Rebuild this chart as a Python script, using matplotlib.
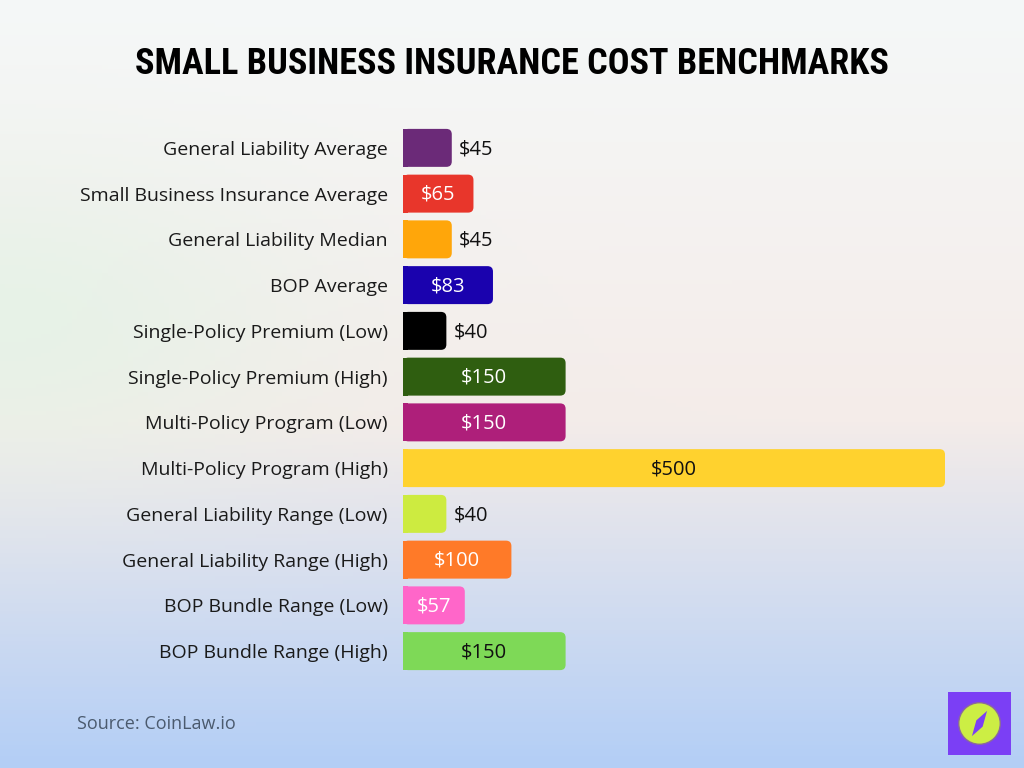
import numpy as np
import matplotlib.pyplot as plt
from matplotlib.patches import FancyBboxPatch, Rectangle, Circle, Polygon
from matplotlib.font_manager import fontManager
import matplotlib.colors as mcolors

# data
categories = [
    "General Liability Average",
    "Small Business Insurance Average",
    "General Liability Median",
    "BOP Average",
    "Single-Policy Premium (Low)",
    "Single-Policy Premium (High)",
    "Multi-Policy Program (Low)",
    "Multi-Policy Program (High)",
    "General Liability Range (Low)",
    "General Liability Range (High)",
    "BOP Bundle Range (Low)",
    "BOP Bundle Range (High)",
]
values = [45, 65, 45, 83, 40, 150, 150, 500, 40, 100, 57, 150]
colors = ["#6b2a78", "#e8362b", "#ffa60a", "#1a02ae", "#000000", "#2f5e10",
          "#ae1f7a", "#ffd22e", "#cdeb40", "#ff7a28", "#ff66c9", "#7ed957"]
title = "SMALL BUSINESS INSURANCE COST BENCHMARKS"

# pick a narrow bold face for the title if one is installed
names = {f.name for f in fontManager.ttflist}
narrow = [n for n in ["Roboto Condensed", "DejaVu Sans Condensed",
                      "Liberation Sans Narrow", "Open Sans Condensed"] if n in names]

fig = plt.figure(figsize=(10.24, 7.68), dpi=100)

# background gradient
bg = fig.add_axes([0, 0, 1, 1], zorder=-10)
bg.axis("off")
h, w = 200, 200
yy = np.linspace(0, 1, h)[:, None]
xx = np.linspace(0, 1, w)[None, :]
top = np.array(mcolors.to_rgb("#f5f8f8"))
mid = np.array(mcolors.to_rgb("#f4ece9"))
bot = np.array(mcolors.to_rgb("#b3cef6"))
t = np.clip(yy / 0.55, 0, 1)
u = np.clip((yy - 0.55) / 0.45, 0, 1)
img = np.where(yy[..., None] < 0.55,
               top * (1 - t[..., None]) + mid * t[..., None],
               mid * (1 - u[..., None]) + bot * u[..., None])
img = np.broadcast_to(img, (h, w, 3)).copy()
# slight mint tint on left middle
green = np.array(mcolors.to_rgb("#e4f3e6"))
wgt = np.exp(-((xx - 0.0) ** 2) / 0.08 - ((yy - 0.42) ** 2) / 0.04)[..., None] * 0.8
img = img * (1 - wgt) + green * wgt
bg.imshow(img, aspect="auto", extent=[0, 1, 0, 1])
bg.set_xlim(0, 1)
bg.set_ylim(0, 1)

ax = fig.add_axes([403 / 1024, 94 / 768, 542 / 1024, 549 / 768])
ax.set_xlim(0, 500)
ax.set_ylim(len(values) - 0.5, -0.5)
ax.patch.set_alpha(0)
for s in ax.spines.values():
    s.set_visible(False)
ax.set_xticks([])
ax.set_yticks(range(len(categories)))
ax.set_yticklabels(categories, fontsize=14, color="#1a1a1a", family="Open Sans")
ax.tick_params(axis="y", length=0, pad=11)

bar_h = 0.83
r = 5.0  # rounding in x units
aspect = (1 / 45.75) / (1 / 1.084)
dark_text = {"#ffd22e", "#7ed957"}
for i, (v, c) in enumerate(zip(values, colors)):
    p = FancyBboxPatch((0, i - bar_h / 2), v, bar_h,
                       boxstyle=f"round,pad=0,rounding_size={r}",
                       mutation_aspect=aspect, fc=c, ec="none")
    ax.add_patch(p)
    ax.add_patch(Rectangle((0, i - bar_h / 2), r, bar_h, fc=c, ec="none"))
    if v > 50:
        tc = "#111111" if c in dark_text else "white"
        ax.text(v / 2, i + 0.03, f"${v}", ha="center", va="center",
                fontsize=14.5, color=tc, family="Open Sans")
    else:
        ax.text(v + 6.5, i + 0.03, f"${v}", ha="left", va="center",
                fontsize=14.5, color="#111111", family="Open Sans")

if narrow:
    fig.text(0.5, 1 - 64 / 768, title, ha="center", va="center",
             fontsize=26, fontweight="bold", family=narrow[0], color="black")
else:
    fig.text(0.5, 1 - 64 / 768, title, ha="center", va="center",
             fontsize=22, fontweight="bold", family="DejaVu Sans", color="black")

fig.text(77 / 1024, 1 - 724 / 768, "Source: CoinLaw.io", ha="left", va="center",
         fontsize=13, color="#4b5a6e", family="Open Sans")

# logo
lx, ly, ls = 948, 692, 63
logo = fig.add_axes([lx / 1024, 1 - (ly + ls) / 768, ls / 1024, ls / 768])
logo.set_xlim(0, 1)
logo.set_ylim(0, 1)
logo.axis("off")
logo.add_patch(Rectangle((0, 0), 1, 1, fc="#7b3ff5", ec="none"))
logo.add_patch(Circle((0.5, 0.5), 0.33, fc="#ccee44", ec="#8a6a9a", lw=1))
logo.add_patch(Polygon([[0.62, 0.70], [0.55, 0.45], [0.38, 0.30], [0.45, 0.55]],
                       closed=True, fc="#7b3ff5", ec="none"))

fig.savefig("out.png", dpi=100)
